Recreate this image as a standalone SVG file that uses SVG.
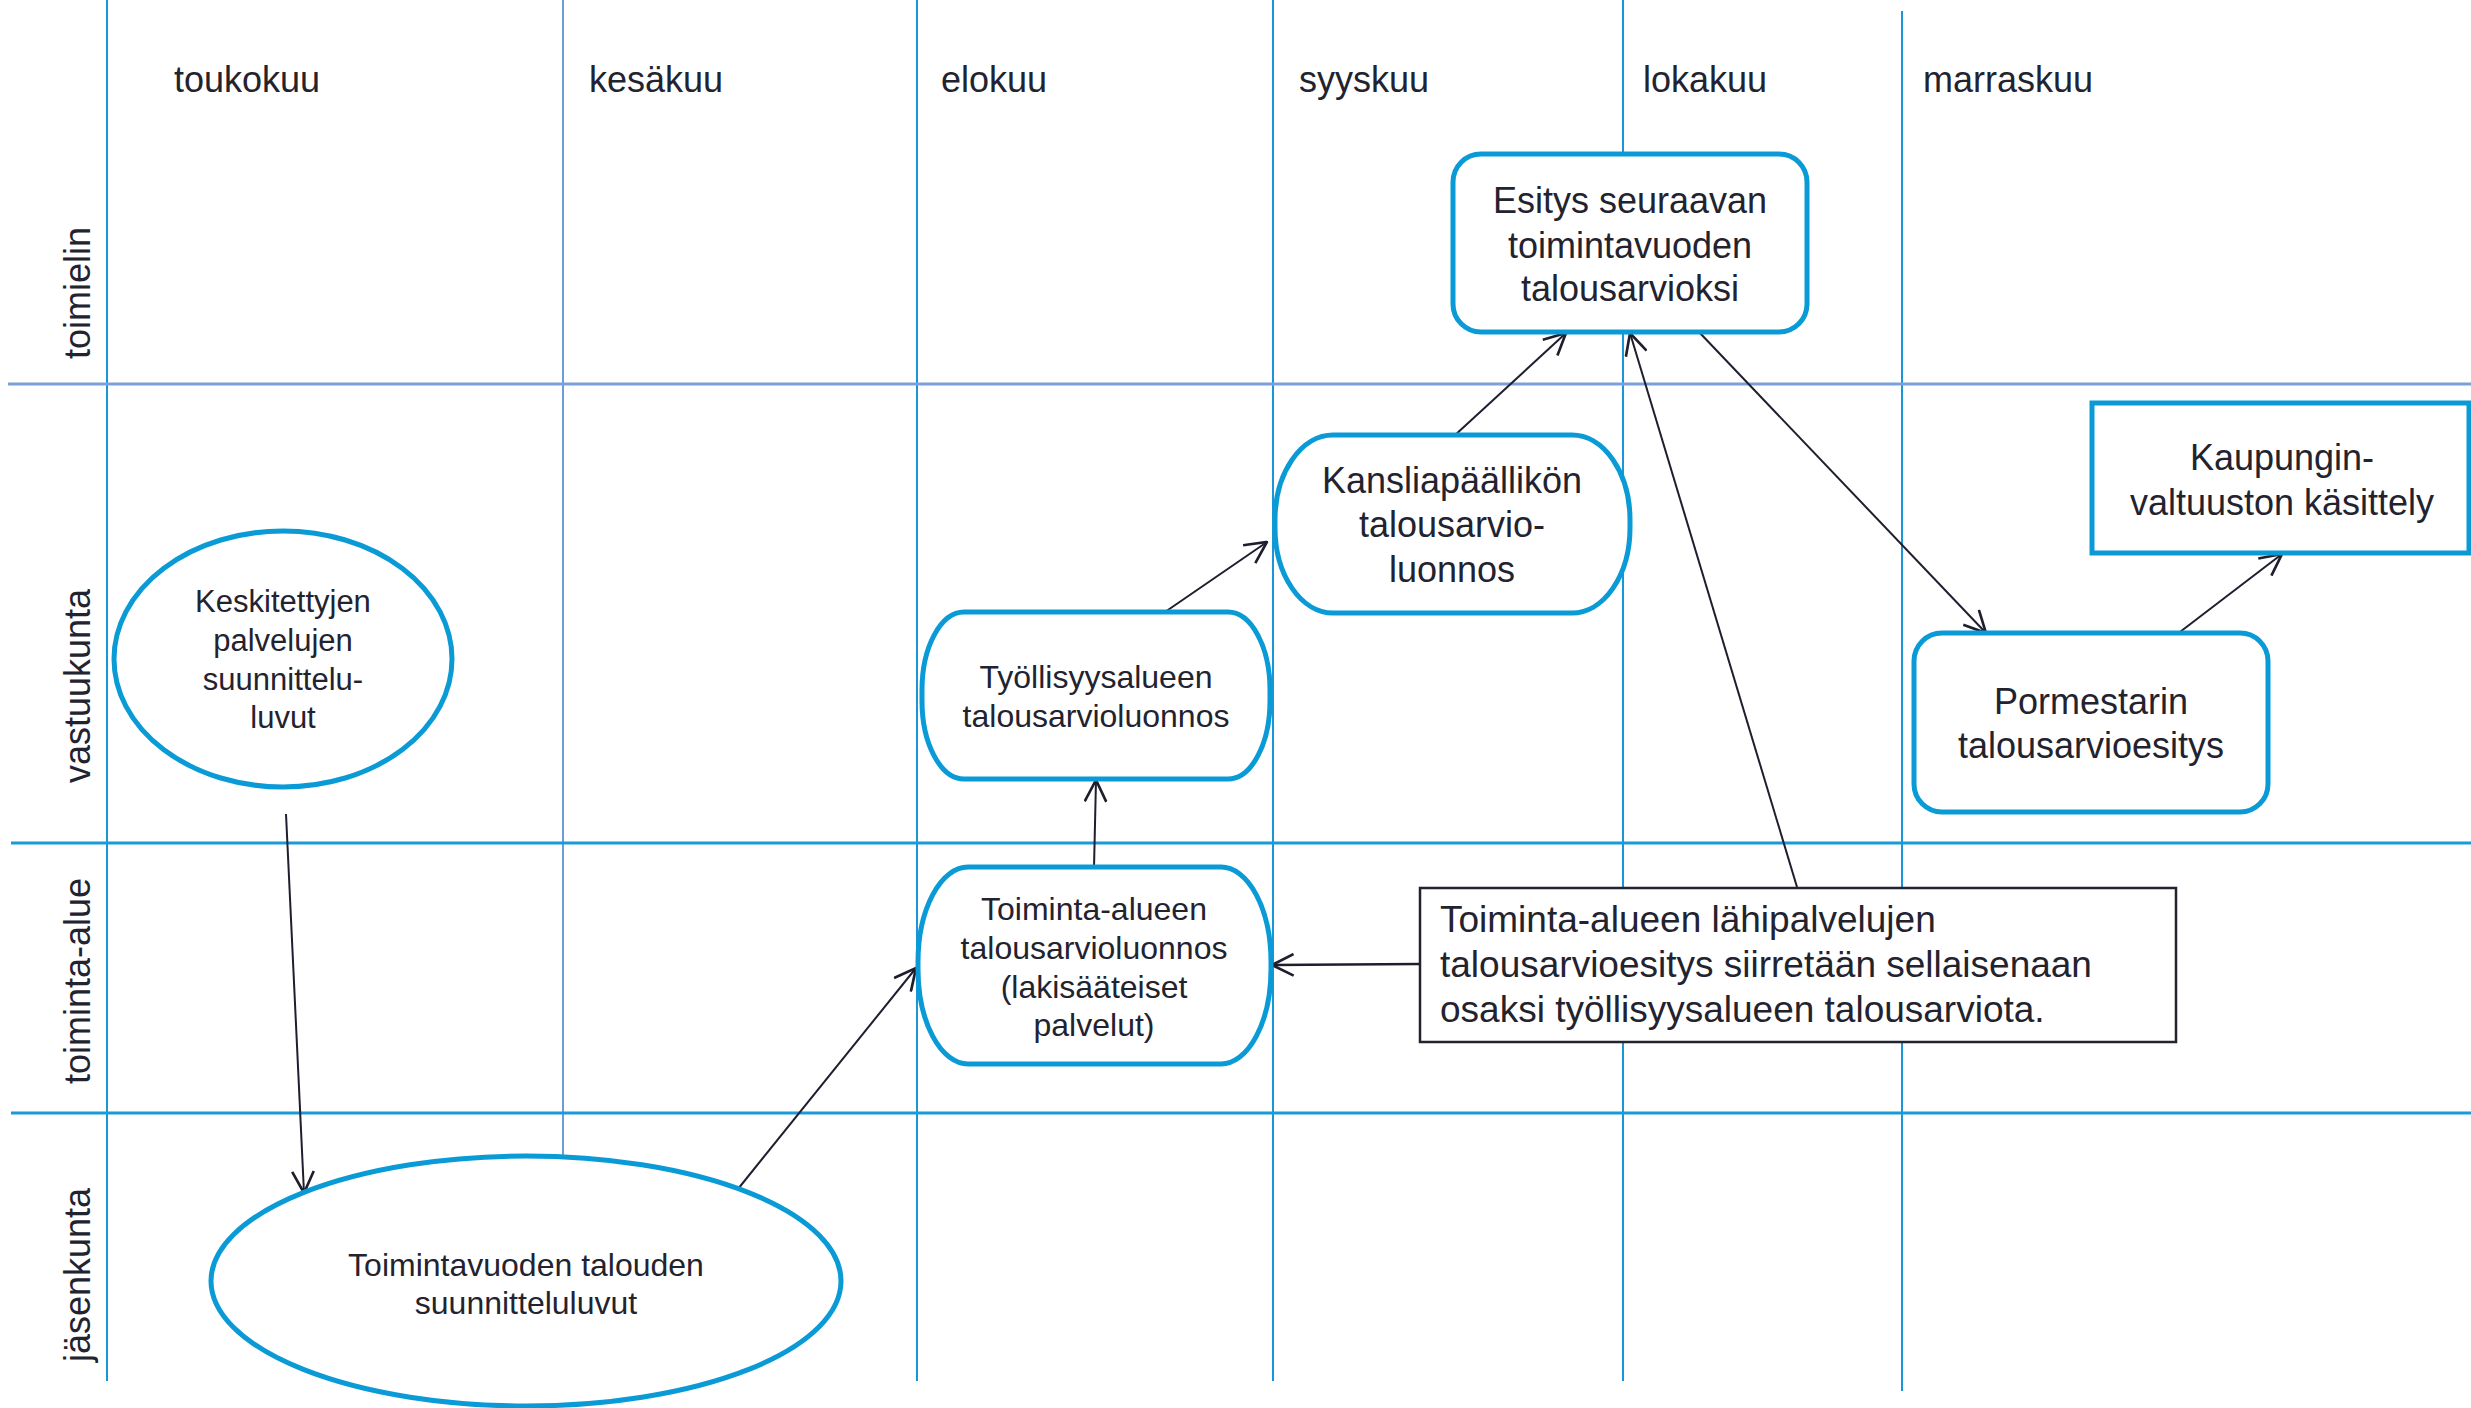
<svg xmlns="http://www.w3.org/2000/svg" width="2471" height="1408" viewBox="0 0 2471 1408">
<defs>
<style>
.t{font-family:"Liberation Sans",Arial,sans-serif;fill:#23232f;text-anchor:middle}
.m{font-family:"Liberation Sans",Arial,sans-serif;fill:#23232f;font-size:36px}
.r{font-family:"Liberation Sans",Arial,sans-serif;fill:#23232f;font-size:36px;text-anchor:middle}
.vl{stroke:#1a96d6;stroke-width:2;fill:none}
.hl{stroke:#1a9ad8;stroke-width:3;fill:none}
.n{fill:#fff;stroke:#0a9bd7;stroke-width:5}
.c{stroke:#1e1e2e;stroke-width:2;fill:none;marker-end:url(#a)}
</style>
<marker id="a" markerUnits="userSpaceOnUse" markerWidth="24" markerHeight="24" viewBox="0 0 20 20" refX="19" refY="10" orient="auto">
<path d="M1,1 L19,10 L1,19" fill="none" stroke="#1e1e2e" stroke-width="2.2"/>
</marker>
</defs>
<rect width="2471" height="1408" fill="#fff"/>
<g id="grid">
<line class="vl" x1="107" y1="0" x2="107" y2="1381"/>
<line class="vl" x1="563" y1="0" x2="563" y2="1381" style="stroke:#3b7ccc;stroke-width:1.5"/>
<line class="vl" x1="917" y1="0" x2="917" y2="1381"/>
<line class="vl" x1="1273" y1="0" x2="1273" y2="1381"/>
<line class="vl" x1="1623" y1="0" x2="1623" y2="1381"/>
<line class="vl" x1="1902" y1="11" x2="1902" y2="1391"/>
<line class="hl" x1="8" y1="384" x2="2471" y2="384" style="stroke:#7b9fd8"/>
<line class="hl" x1="11" y1="843" x2="2471" y2="843"/>
<line class="hl" x1="11" y1="1113" x2="2471" y2="1113"/>
</g>
<g id="months">
<text class="m" x="174" y="92">toukokuu</text>
<text class="m" x="589" y="92">kesäkuu</text>
<text class="m" x="941" y="92">elokuu</text>
<text class="m" x="1299" y="92">syyskuu</text>
<text class="m" x="1643" y="92">lokakuu</text>
<text class="m" x="1923" y="92">marraskuu</text>
</g>
<g id="rows">
<text class="r" transform="translate(90,293) rotate(-90)">toimielin</text>
<text class="r" transform="translate(90,686) rotate(-90)">vastuukunta</text>
<text class="r" transform="translate(90,981) rotate(-90)">toiminta-alue</text>
<text class="r" transform="translate(90,1275) rotate(-90)">jäsenkunta</text>
</g>
<g id="connectors">
<line class="c" x1="286" y1="814" x2="304" y2="1193"/>
<line class="c" x1="738" y1="1189" x2="916" y2="968"/>
<line class="c" x1="1094" y1="868" x2="1096" y2="780"/>
<line class="c" x1="1165" y1="612" x2="1267" y2="542"/>
<line class="c" x1="1454" y1="436" x2="1566" y2="333"/>
<line class="c" x1="1699" y1="332" x2="1986" y2="633"/>
<line class="c" x1="2176" y1="635" x2="2282" y2="554"/>
<line class="c" x1="1797" y1="887" x2="1630" y2="333"/>
<line class="c" x1="1420" y1="964" x2="1272" y2="965" style="stroke-width:2.6"/>
</g>
<g id="n-esitys">
<rect class="n" x="1453" y="154" width="354" height="178" rx="28"/>
<text class="t" font-size="36" x="1630" y="213">Esitys seuraavan</text>
<text class="t" font-size="36" x="1630" y="258">toimintavuoden</text>
<text class="t" font-size="36" x="1630" y="301">talousarvioksi</text>
</g>
<g id="n-kanslia">
<rect class="n" x="1275" y="435" width="355" height="178" rx="58" ry="85"/>
<text class="t" font-size="36" x="1452" y="493">Kansliapäällikön</text>
<text class="t" font-size="36" x="1452" y="537">talousarvio-</text>
<text class="t" font-size="36" x="1452" y="582">luonnos</text>
</g>
<g id="n-kaupunki">
<rect class="n" x="2092" y="403" width="377" height="150"/>
<text class="t" font-size="36" x="2282" y="470">Kaupungin-</text>
<text class="t" font-size="36" x="2282" y="515">valtuuston käsittely</text>
</g>
<g id="n-pormestari">
<rect class="n" x="1914" y="633" width="354" height="179" rx="28"/>
<text class="t" font-size="36" x="2091" y="714">Pormestarin</text>
<text class="t" font-size="36" x="2091" y="758">talousarvioesitys</text>
</g>
<g id="n-tyollisyys">
<rect class="n" x="922" y="612" width="348" height="167" rx="42" ry="78"/>
<text class="t" font-size="32" x="1096" y="688">Työllisyysalueen</text>
<text class="t" font-size="32" x="1096" y="727">talousarvioluonnos</text>
</g>
<g id="n-toimintaalue">
<rect class="n" x="918" y="867" width="353" height="197" rx="50" ry="95"/>
<text class="t" font-size="32" x="1094" y="920">Toiminta-alueen</text>
<text class="t" font-size="32" x="1094" y="959">talousarvioluonnos</text>
<text class="t" font-size="32" x="1094" y="998">(lakisääteiset</text>
<text class="t" font-size="32" x="1094" y="1036">palvelut)</text>
</g>
<g id="n-keskitetyt">
<ellipse class="n" cx="283" cy="659" rx="169" ry="128"/>
<text class="t" font-size="31" x="283" y="612">Keskitettyjen</text>
<text class="t" font-size="31" x="283" y="651">palvelujen</text>
<text class="t" font-size="31" x="283" y="690">suunnittelu-</text>
<text class="t" font-size="31" x="283" y="728">luvut</text>
</g>
<g id="n-toimintavuosi">
<ellipse class="n" cx="526" cy="1281" rx="315" ry="125"/>
<text class="t" font-size="32" x="526" y="1276">Toimintavuoden talouden</text>
<text class="t" font-size="32" x="526" y="1314">suunnitteluluvut</text>
</g>
<g id="n-callout">
<rect x="1420" y="888" width="756" height="154" fill="#fff" stroke="#23232f" stroke-width="2.5"/>
<text class="m" font-size="37" x="1440" y="932" style="font-size:37px">Toiminta-alueen lähipalvelujen</text>
<text class="m" x="1440" y="977" style="font-size:37px">talousarvioesitys siirretään sellaisenaan</text>
<text class="m" x="1440" y="1022" style="font-size:37px">osaksi työllisyysalueen talousarviota.</text>
</g>
</svg>
